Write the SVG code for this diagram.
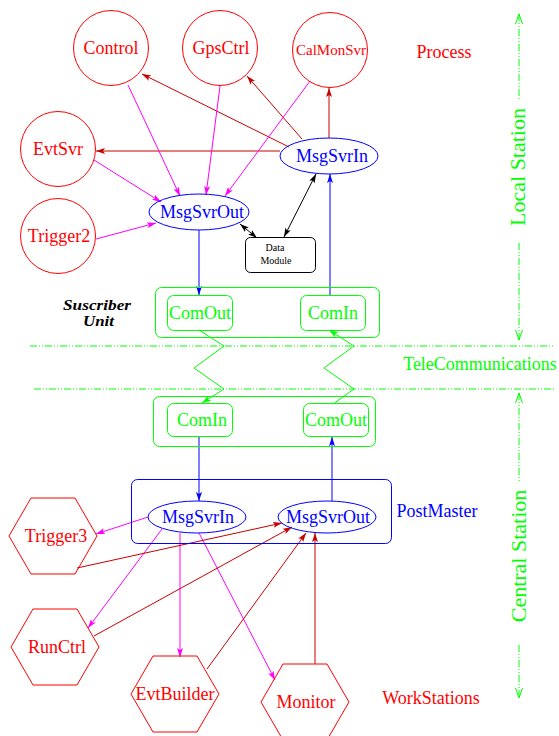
<svg xmlns="http://www.w3.org/2000/svg" width="559" height="736" viewBox="0 0 559 736">
<style>
text{font-family:"Liberation Serif","Times New Roman",serif;font-size:18px;text-anchor:middle}
.r{fill:#ff0000}.b{fill:#0000ff}.g{fill:#00ff00}.k{fill:#000}
.nr{fill:none;stroke:#ff0000;stroke-width:1}
.nb{fill:none;stroke:#0000ff;stroke-width:1}
.ng{fill:none;stroke:#00ff00;stroke-width:1}
.nk{fill:none;stroke:#000;stroke-width:1}
.em{fill:none;stroke:#ff00ff;stroke-width:1;marker-end:url(#am)}
.ed{fill:none;stroke:#c80000;stroke-width:1;marker-end:url(#ad)}
.eb{fill:none;stroke:#0000ff;stroke-width:1;marker-end:url(#ab)}
.eg{fill:none;stroke:#00ff00;stroke-width:1;marker-end:url(#ag)}
.ek{fill:none;stroke:#000;stroke-width:1;marker-end:url(#ak);marker-start:url(#ak)}
.dd{fill:none;stroke:#00ff00;stroke-width:1;stroke-dasharray:7 2 1 2 1 2}
.va{fill:none;stroke:#00ff00;stroke-width:1;stroke-dasharray:7 2 1 2 1 2;marker-end:url(#ao);marker-start:url(#ao)}
.su{font-size:14px;font-weight:bold;font-style:italic;text-anchor:start}
</style>
<defs>
<marker id="am" markerUnits="userSpaceOnUse" markerWidth="10" markerHeight="6" refX="9" refY="3" orient="auto"><path d="M0,0 L9,3 L0,6 L2,3 z" fill="#ff00ff"/></marker>
<marker id="ad" markerUnits="userSpaceOnUse" markerWidth="10" markerHeight="6" refX="9" refY="3" orient="auto"><path d="M0,0 L9,3 L0,6 L2,3 z" fill="#c80000"/></marker>
<marker id="ab" markerUnits="userSpaceOnUse" markerWidth="10" markerHeight="6" refX="9" refY="3" orient="auto"><path d="M0,0 L9,3 L0,6 L2,3 z" fill="#0000ff"/></marker>
<marker id="ag" markerUnits="userSpaceOnUse" markerWidth="10" markerHeight="6" refX="9" refY="3" orient="auto"><path d="M0,0 L9,3 L0,6 L2,3 z" fill="#00ff00"/></marker>
<marker id="ak" markerUnits="userSpaceOnUse" markerWidth="10" markerHeight="6" refX="9" refY="3" orient="auto-start-reverse"><path d="M0,0 L9,3 L0,6 L2,3 z" fill="#000"/></marker>
<marker id="ao" markerUnits="userSpaceOnUse" markerWidth="12" markerHeight="8" refX="10" refY="4" orient="auto-start-reverse"><path d="M0,0.5 L10,4 L0,7.5" fill="none" stroke="#00ff00" stroke-width="1"/></marker>
</defs>

<g id="connectors">
<path class="ed" d="M289,147 L142,74"/>
<path class="ed" d="M302,139 L247,76"/>
<path class="ed" d="M329,138 L329,88"/>
<path class="ed" d="M280,151 L96,151"/>
<path class="em" d="M128,85 L180,196"/>
<path class="em" d="M220,86 L206,195"/>
<path class="em" d="M310,81 L225,196"/>
<path class="em" d="M94,160 L161,202"/>
<path class="em" d="M96,239 L156,223"/>
<path class="ek" d="M240,224 L257,238"/>
<path class="ek" d="M316,174 L284,237"/>
<path class="eb" d="M199,230 L199,295"/>
<path class="eb" d="M330,295 L330,174"/>
<path class="eg" d="M199,330 L224,346 L194,368 L224,389 L202,403"/>
<path class="eg" d="M333,404 L354,389 L324,368 L354,346 L329,330"/>
<path class="eb" d="M199,437 L199,501"/>
<path class="eb" d="M332,479 L332,437"/>
<path class="nb" d="M332,479 L332,501"/>
<path class="em" d="M148,517 L96,534"/>
<path class="em" d="M162,529 L88,628"/>
<path class="em" d="M180,533 L180,657"/>
<path class="em" d="M199,533 L275,680"/>
<path class="ed" d="M77,568 L282,523"/>
<path class="ed" d="M94,636 L292,527"/>
<path class="ed" d="M207,669 L306,533"/>
<path class="ed" d="M315,664 L315,533"/>
<path class="dd" d="M30,346 L554,346"/>
<path class="dd" d="M34,389 L556,389"/>
<path class="va" d="M519,14 L519,101" style="marker-end:none"/>
<path class="va" d="M519,243 L519,340" style="marker-start:none"/>
<path class="va" d="M519,393 L519,481" style="marker-end:none"/>
<path class="va" d="M519,645 L519,698" style="marker-start:none"/>
</g>

<g id="Control"><circle class="nr" cx="111" cy="48" r="37.5"/><text class="r" x="111" y="54">Control</text></g>
<g id="GpsCtrl"><circle class="nr" cx="220" cy="48" r="37.5"/><text class="r" x="221" y="54">GpsCtrl</text></g>
<g id="CalMonSvr"><circle class="nr" cx="330" cy="50" r="37.5"/><text class="r" x="331" y="55" style="font-size:15px">CalMonSvr</text></g>
<g id="EvtSvr"><circle class="nr" cx="58" cy="149" r="37.5"/><text class="r" x="58" y="155">EvtSvr</text></g>
<g id="Trigger2"><circle class="nr" cx="58" cy="236" r="37.5"/><text class="r" x="59" y="242">Trigger2</text></g>
<g id="MsgSvrIn_top"><ellipse class="nb" cx="329" cy="156" rx="49" ry="18"/><text class="b" x="332" y="162">MsgSvrIn</text></g>
<g id="MsgSvrOut_top"><ellipse class="nb" cx="199" cy="212" rx="50" ry="18"/><text class="b" x="202" y="218">MsgSvrOut</text></g>
<g id="DataModule"><rect class="nk" x="245.5" y="237.5" width="70" height="35" rx="5"/><text class="k" x="275" y="251" style="font-size:10px">Data</text><text class="k" x="276" y="264" style="font-size:10px">Module</text></g>
<g id="SuscriberUnit"><text class="k su" x="63" y="310" textLength="68" lengthAdjust="spacingAndGlyphs">Suscriber</text><text class="k su" x="83" y="326" textLength="31" lengthAdjust="spacingAndGlyphs">Unit</text></g>
<g id="SubscriberBox"><rect class="ng" x="155.5" y="287.5" width="224" height="50" rx="6"/></g>
<g id="ComOut_top"><rect class="ng" x="167.5" y="295.5" width="65" height="35" rx="6"/><text class="g" x="200" y="319">ComOut</text></g>
<g id="ComIn_top"><rect class="ng" x="300.5" y="295.5" width="65" height="35" rx="6"/><text class="g" x="333" y="319">ComIn</text></g>
<g id="CentralComBox"><rect class="ng" x="153.5" y="396.5" width="222" height="50" rx="6"/></g>
<g id="ComIn_bottom"><rect class="ng" x="167.5" y="403.5" width="65" height="33" rx="6"/><text class="g" x="202" y="426">ComIn</text></g>
<g id="ComOut_bottom"><rect class="ng" x="303.5" y="403.5" width="65" height="33" rx="6"/><text class="g" x="336" y="426">ComOut</text></g>
<g id="PostMaster"><rect class="nb" x="131.5" y="479.5" width="260" height="64" rx="6"/><text class="b" x="437" y="517">PostMaster</text></g>
<g id="MsgSvrIn_bottom"><ellipse class="nb" cx="197" cy="517" rx="49" ry="16"/><text class="b" x="198" y="523">MsgSvrIn</text></g>
<g id="MsgSvrOut_bottom"><ellipse class="nb" cx="327" cy="517" rx="49" ry="16"/><text class="b" x="328" y="523">MsgSvrOut</text></g>
<g id="Trigger3"><polygon class="nr" points="9,536 31,498 75,498 97,536 75,574 31,574"/><text class="r" x="56" y="542">Trigger3</text></g>
<g id="RunCtrl"><polygon class="nr" points="11,647 33,609 77,609 99,647 77,685 33,685"/><text class="r" x="57" y="653">RunCtrl</text></g>
<g id="EvtBuilder"><polygon class="nr" points="131,694 153,656 197,656 219,694 197,732 153,732"/><text class="r" x="175" y="700">EvtBuilder</text></g>
<g id="Monitor"><polygon class="nr" points="261,702 283,664 327,664 349,702 327,740 283,740"/><text class="r" x="306" y="708">Monitor</text></g>
<g id="labels">
<text class="r" x="444" y="58">Process</text>
<text class="g" x="480" y="370">TeleCommunications</text>
<text class="r" x="431" y="704">WorkStations</text>
<text class="g" transform="translate(525,167) rotate(-90)" style="font-size:22px">Local Station</text>
<text class="g" transform="translate(526,556) rotate(-90)" style="font-size:22px">Central Station</text>
</g>
</svg>
